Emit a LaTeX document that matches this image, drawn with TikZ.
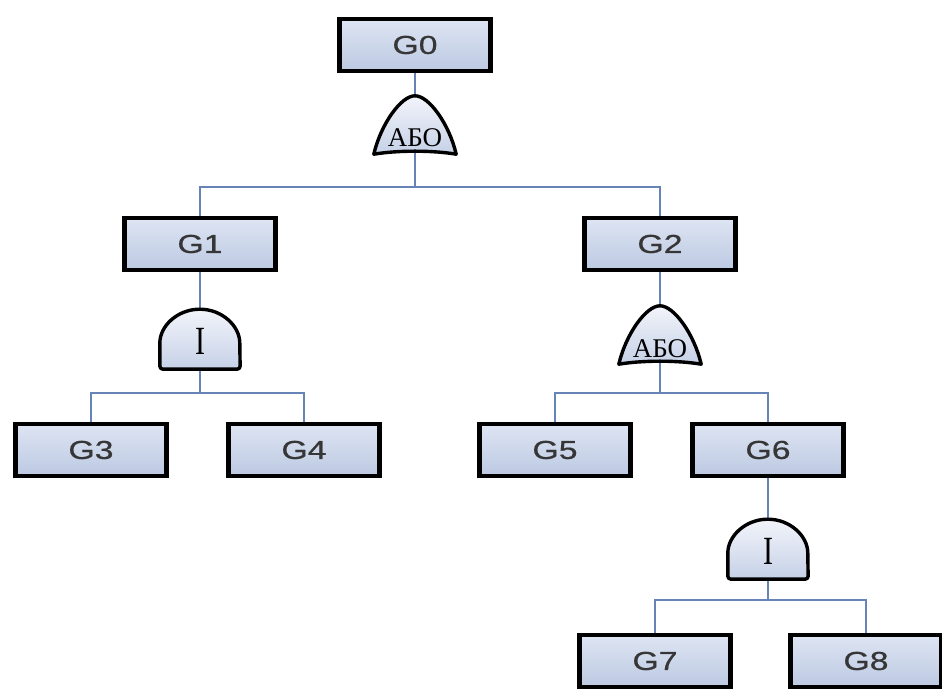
\documentclass[tikz,border=0pt]{standalone}
\usepackage{fontspec}
\usetikzlibrary{calc}
\newfontfamily\boxfont[FakeStretch=1.3, FakeBold=0.6]{Liberation Sans}
\newfontfamily\gatefont{Liberation Serif}
\newfontfamily\andfont[FakeStretch=0.75]{Liberation Serif}
\definecolor{wireblue}{HTML}{6684B8}
\definecolor{boxtop}{HTML}{DEE5F3}
\definecolor{boxbot}{HTML}{BCC9E2}
\definecolor{gatetop}{HTML}{F2F4FA}
\definecolor{gatebot}{HTML}{C6D1E7}
\definecolor{labelgray}{HTML}{363636}
\pgfdeclarelayer{background}
\pgfsetlayers{background,main}
\tikzset{
  event/.style={rectangle, draw=black, line width=4.4pt, top color=boxtop,
    bottom color=boxbot, minimum width=151pt, minimum height=52pt,
    inner sep=0pt, font=\boxfont\fontsize{26}{26}\selectfont, text=labelgray},
  orgate/.style={rectangle, minimum width=82pt, minimum height=58pt, inner sep=0pt},
  andgate/.style={rectangle, minimum width=80pt, minimum height=60pt, inner sep=0pt,
    font=\andfont\fontsize{40}{40}\selectfont},
  orlabel/.style={inner sep=0pt, font=\gatefont\fontsize{27}{27}\selectfont},
  gateline/.style={draw=black, line width=3.4pt, line join=round,
    top color=gatetop, bottom color=gatebot},
  wire/.style={draw=wireblue, line width=2.4pt},
}
\begin{document}
\begin{tikzpicture}[x=1pt,y=1pt]
\useasboundingbox (0,0) rectangle (942,693);

% events
\node[event] (G0) at (415,648) {G0};
\node[event] (G1) at (200,449) {G1};
\node[event] (G2) at (660,449) {G2};
\node[event] (G3) at (91,243) {G3};
\node[event] (G4) at (304,243) {G4};
\node[event] (G5) at (555,243) {G5};
\node[event] (G6) at (768,243) {G6};
\node[event] (G7) at (655,32) {G7};
\node[event] (G8) at (866,32) {G8};

% gate placeholders
\node[orgate]  (o0) at (415,568) {};
\node[andgate] (a1) at (200,354) {};
\node[orgate]  (o2) at (660,358) {};
\node[andgate] (a6) at (768,144) {};

% bus junctions
\coordinate (b0) at (415,506);
\coordinate (b1) at (200,300);
\coordinate (b2) at (660,300);
\coordinate (b6) at (768,93);

% OR gate outlines
\foreach \g in {o0,o2}{
  \draw[gateline] (\g.south west)
    .. controls +(7,30) and +(-14,0) .. (\g.north)
    .. controls +(14,0) and +(-7,30) .. (\g.south east)
    .. controls +(-24,4) and +(24,4) .. (\g.south west) -- cycle;
}
% AND gate outlines
\foreach \g in {a1,a6}{
  \draw[gateline, rounded corners=3pt] (\g.south west) -- ++(0,23)
    arc[start angle=180, end angle=0, x radius=40, y radius=37]
    -- (\g.south east) -- cycle;
}

% gate symbols
\node[orlabel] (o0t) at ($(o0.south)+(0,16)$) {АБО};
\node[orlabel] (o2t) at ($(o2.south)+(0,16)$) {АБО};
\node[andgate] (a1t) at ($(a1)+(0,-2)$) {І};
\node[andgate] (a6t) at ($(a6)+(0,-2)$) {І};

% connectors
\begin{pgfonlayer}{background}
\draw[wire] (G0) -- (b0);
\draw[wire] (G1.north) |- (b0) -| (G2.north);
\draw[wire] (G1) -- (b1);
\draw[wire] (G3.north) |- (b1) -| (G4.north);
\draw[wire] (G2) -- (b2);
\draw[wire] (G5.north) |- (b2) -| (G6.north);
\draw[wire] (G6) -- (b6);
\draw[wire] (G7.north) |- (b6) -| (G8.north);
\end{pgfonlayer}
\end{tikzpicture}
\end{document}
